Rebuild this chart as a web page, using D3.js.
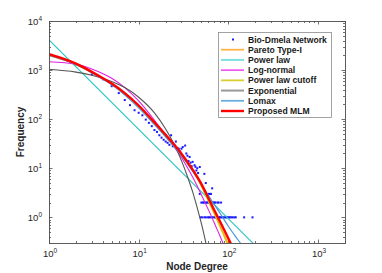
<!DOCTYPE html>
<html>
<head>
<meta charset="utf-8">
<script src="https://cdn.jsdelivr.net/npm/d3@7"></script>
<style>
body { margin: 0; background: #fff; }
svg { display: block; font-family: "Liberation Sans", Arial, sans-serif; }
</style>
</head>
<body>
<div id="chartArea"></div>
<script>
// observed degree distribution (Bio-Dmela)
var degree = [1, 2, 3, 4, 5, 6, 7, 8, 9, 10, 11, 12, 13, 14, 15, 16, 17, 18, 19, 20,
    21, 22, 23, 24, 25, 26, 27, 28, 29, 30, 31, 32, 33, 34, 35, 36, 37, 38, 39, 40,
    42, 43, 44, 45, 46, 48, 54, 56, 66,
    48, 59, 61, 63, 64,
    50, 52, 53, 55, 57, 58, 60, 62, 65, 67, 69, 70, 72, 76, 78, 83,
    49, 51, 54, 56, 59, 61, 63, 66, 68, 71, 73, 74, 75, 77, 79, 80, 82, 85, 87, 90,
    93, 95, 98, 101, 104, 108, 112, 117, 121, 150, 186];
var frequency = [2020, 1310, 815, 650, 470, 340, 245, 193, 152, 135, 120, 98, 84, 72, 60, 55, 47, 42, 38, 35,
    33, 30, 47, 28, 30, 35, 26, 25, 22, 25, 27, 16, 29, 20, 18, 14, 17, 13, 11, 13.5,
    11.5, 10.7, 9, 10, 8, 10.6, 7.7, 5, 3.9,
    3, 3, 3, 3, 3,
    2, 2, 2, 2, 2, 2, 2, 2, 2, 2, 2, 2, 2, 2, 2, 2,
    1, 1, 1, 1, 1, 1, 1, 1, 1, 1, 1, 1, 1, 1, 1, 1, 1, 1, 1, 1,
    1, 1, 1, 1, 1, 1, 1, 1, 1, 1, 1];

// fitted models
var paretoK = [1, 2, 3, 4, 5, 7, 10, 15, 20, 30, 40, 50, 60, 70, 80, 90, 100];
var paretoF = [1980, 1300, 890, 660, 515, 330, 186, 85, 47, 19.3, 9.0, 4.45, 2.2, 1.2, 0.7, 0.44, 0.28];
var powerK = [1, 200];
var powerF = [4100, 0.266];
var lognormK = [1, 2, 3, 4, 5, 7, 10, 15, 20, 30, 40, 50, 60, 70, 80, 90];
var lognormF = [1480, 1320, 1050, 840, 680, 440, 235, 95, 47, 16.5, 6.6, 2.9, 1.42, 0.76, 0.43, 0.26];
var cutoffK = [1, 2, 3, 4, 5, 7, 10, 15, 20, 30, 40, 50, 60, 70, 80, 90, 100];
var cutoffF = [2050, 1320, 900, 670, 520, 330, 185, 83, 46, 19, 8.8, 4.3, 2.1, 1.15, 0.66, 0.4, 0.25];
var expK = [1, 2, 3, 5, 7, 10, 15, 20, 25, 30, 35, 40, 45, 50, 55, 60];
var expF = [1040, 910, 785, 585, 440, 280, 134, 63, 30, 14.3, 6.8, 3.3, 1.56, 0.75, 0.36, 0.17];
var lomaxK = [1, 2, 3, 4, 5, 7, 10, 15, 20, 30, 40, 50, 60, 70, 80, 100, 120, 140, 160];
var lomaxF = [2000, 1300, 880, 645, 500, 310, 170, 77, 43, 18, 8.6, 4.7, 2.8, 1.8, 1.25, 0.66, 0.41, 0.28, 0.2];
var mlmK = [1, 2, 3, 4, 5, 7, 10, 15, 20, 30, 40, 50, 60, 70, 80, 90, 104, 115];
var mlmF = [2100, 1350, 920, 680, 530, 340, 190, 86, 48, 19.8, 9.4, 4.8, 2.44, 1.38, 0.85, 0.55, 0.32, 0.22];

var legendNames = ['Bio-Dmela Network', 'Pareto Type-I', 'Power law', 'Log-normal',
    'Power law cutoff', 'Exponential', 'Lomax', 'Proposed MLM'];

var xTicks = [1, 10, 100, 1000];
var yTicks = [1, 10, 100, 1000, 10000];

var models = [
    { k: paretoK, f: paretoF, color: '#ffa31a', legendColor: '#ffb347', width: 1.4, legendWidth: 1.8 },
    { k: powerK, f: powerF, color: '#2ec4c4', legendColor: '#7fe0e0', width: 1.1, legendWidth: 2 },
    { k: lognormK, f: lognormF, color: '#e020e0', legendColor: '#f060f0', width: 1.1, legendWidth: 1.8 },
    { k: cutoffK, f: cutoffF, color: '#d4c800', legendColor: '#d8d030', width: 1.1, legendWidth: 1.8 },
    { k: expK, f: expF, color: '#555555', legendColor: '#999999', width: 1.1, legendWidth: 2 },
    { k: lomaxK, f: lomaxF, color: '#3f95d6', legendColor: '#6aaee0', width: 1.1, legendWidth: 1.8 },
    { k: mlmK, f: mlmF, color: '#ff0000', legendColor: '#ff0000', width: 2.4, legendWidth: 2.4 }
];

var w = 382, h = 273;
var box = { left: 49, right: 345, top: 21, bottom: 243 };

var svg = d3.select('#chartArea').append('svg')
    .attr('width', w)
    .attr('height', h);

var xScale = d3.scaleLog().domain([1, 2000]).range([box.left, box.right]);
var yScale = d3.scaleLog().domain([0.3, 10000]).range([box.bottom, box.top]);

svg.append('defs').append('clipPath').attr('id', 'plotClip')
    .append('rect')
    .attr('x', box.left).attr('y', box.top)
    .attr('width', box.right - box.left).attr('height', box.bottom - box.top);

// minor ticks
var xMinor = [], yMinor = [];
[1, 10, 100, 1000].forEach(function(d) {
    for (var m = 2; m <= 9; m++) if (d * m <= 2000) xMinor.push(d * m);
});
[0.1, 1, 10, 100, 1000].forEach(function(d) {
    for (var m = 2; m <= 9; m++) if (d * m >= 0.3 && d * m <= 10000) yMinor.push(d * m);
});

var axisColor = '#4d4d4d';
var ticks = svg.append('g').attr('stroke', axisColor).attr('stroke-width', 0.8);

function xTick(v, len) {
    var x = Math.round(xScale(v)) + 0.5;
    ticks.append('line').attr('x1', x).attr('x2', x).attr('y1', box.bottom).attr('y2', box.bottom - len);
    ticks.append('line').attr('x1', x).attr('x2', x).attr('y1', box.top).attr('y2', box.top + len);
}
function yTick(v, len) {
    var y = Math.round(yScale(v)) + 0.5;
    ticks.append('line').attr('x1', box.left).attr('x2', box.left + len).attr('y1', y).attr('y2', y);
    ticks.append('line').attr('x1', box.right).attr('x2', box.right - len).attr('y1', y).attr('y2', y);
}
xMinor.forEach(function(v) { xTick(v, 2); });
xTicks.forEach(function(v) { xTick(v, 3.5); });
yMinor.forEach(function(v) { yTick(v, 2); });
yTicks.forEach(function(v) { yTick(v, 3.5); });

// data points
var plot = svg.append('g').attr('clip-path', 'url(#plotClip)');
plot.selectAll('rect.pt')
    .data(d3.zip(degree, frequency))
    .enter()
    .append('rect')
    .attr('class', 'pt')
    .attr('x', function(d) { return xScale(d[0]) - 1; })
    .attr('y', function(d) { return yScale(d[1]) - 1; })
    .attr('width', 2)
    .attr('height', 2)
    .attr('fill', '#1a1aff');

// model curves
var line = d3.line()
    .x(function(d) { return xScale(d[0]); })
    .y(function(d) { return yScale(d[1]); })
    .curve(d3.curveMonotoneX);

plot.selectAll('path.model')
    .data(models)
    .enter()
    .append('path')
    .attr('class', 'model')
    .attr('d', function(m) { return line(d3.zip(m.k, m.f)); })
    .attr('fill', 'none')
    .attr('stroke', function(m) { return m.color; })
    .attr('stroke-width', function(m) { return m.width; });

// frame
svg.append('rect')
    .attr('x', box.left + 0.5).attr('y', box.top + 0.5)
    .attr('width', box.right - box.left).attr('height', box.bottom - box.top)
    .attr('fill', 'none')
    .attr('stroke', axisColor)
    .attr('stroke-width', 0.9);

// tick labels
function powLabel(g, x, y, exp, anchor) {
    var t = g.append('text')
        .attr('x', x).attr('y', y)
        .attr('text-anchor', anchor)
        .attr('font-size', 9.5)
        .attr('fill', '#262626');
    t.append('tspan').text('10');
    t.append('tspan').attr('dy', -4).attr('font-size', 6.5).text(exp);
}
var labels = svg.append('g');
xTicks.forEach(function(v) {
    powLabel(labels, xScale(v) + 1, 257, Math.round(Math.log10(v)), 'middle');
});
yTicks.forEach(function(v) {
    powLabel(labels, 42, yScale(v) + 4, Math.round(Math.log10(v)), 'end');
});

svg.append('text')
    .attr('x', (box.left + box.right) / 2)
    .attr('y', 270)
    .attr('text-anchor', 'middle')
    .attr('font-size', 10)
    .attr('font-weight', 'bold')
    .attr('fill', '#262626')
    .text('Node Degree');

svg.append('text')
    .attr('transform', 'translate(24,' + ((box.top + box.bottom) / 2) + ') rotate(-90)')
    .attr('text-anchor', 'middle')
    .attr('font-size', 10)
    .attr('font-weight', 'bold')
    .attr('fill', '#262626')
    .text('Frequency');

// legend
var lg = svg.append('g');
lg.append('rect')
    .attr('x', 218.5).attr('y', 32.5)
    .attr('width', 113).attr('height', 85)
    .attr('fill', '#fff')
    .attr('stroke', '#8c8c8c')
    .attr('stroke-width', 0.8);

var rowY = d3.scaleLinear().domain([0, legendNames.length - 1]).range([39.5, 111]);

legendNames.forEach(function(name, i) {
    var y = rowY(i);
    if (i === 0) {
        lg.append('rect')
            .attr('x', 232).attr('y', y - 1)
            .attr('width', 2).attr('height', 2)
            .attr('fill', '#1a1aff');
    } else {
        var m = models[i - 1];
        lg.append('line')
            .attr('x1', 221).attr('x2', 244)
            .attr('y1', y).attr('y2', y)
            .attr('stroke', m.legendColor)
            .attr('stroke-width', m.legendWidth);
    }
    lg.append('text')
        .attr('x', 248)
        .attr('y', y + 3)
        .attr('font-size', 8.6)
        .attr('font-weight', 'bold')
        .attr('fill', '#1a1a1a')
        .text(name);
});
</script>
</body>
</html>
